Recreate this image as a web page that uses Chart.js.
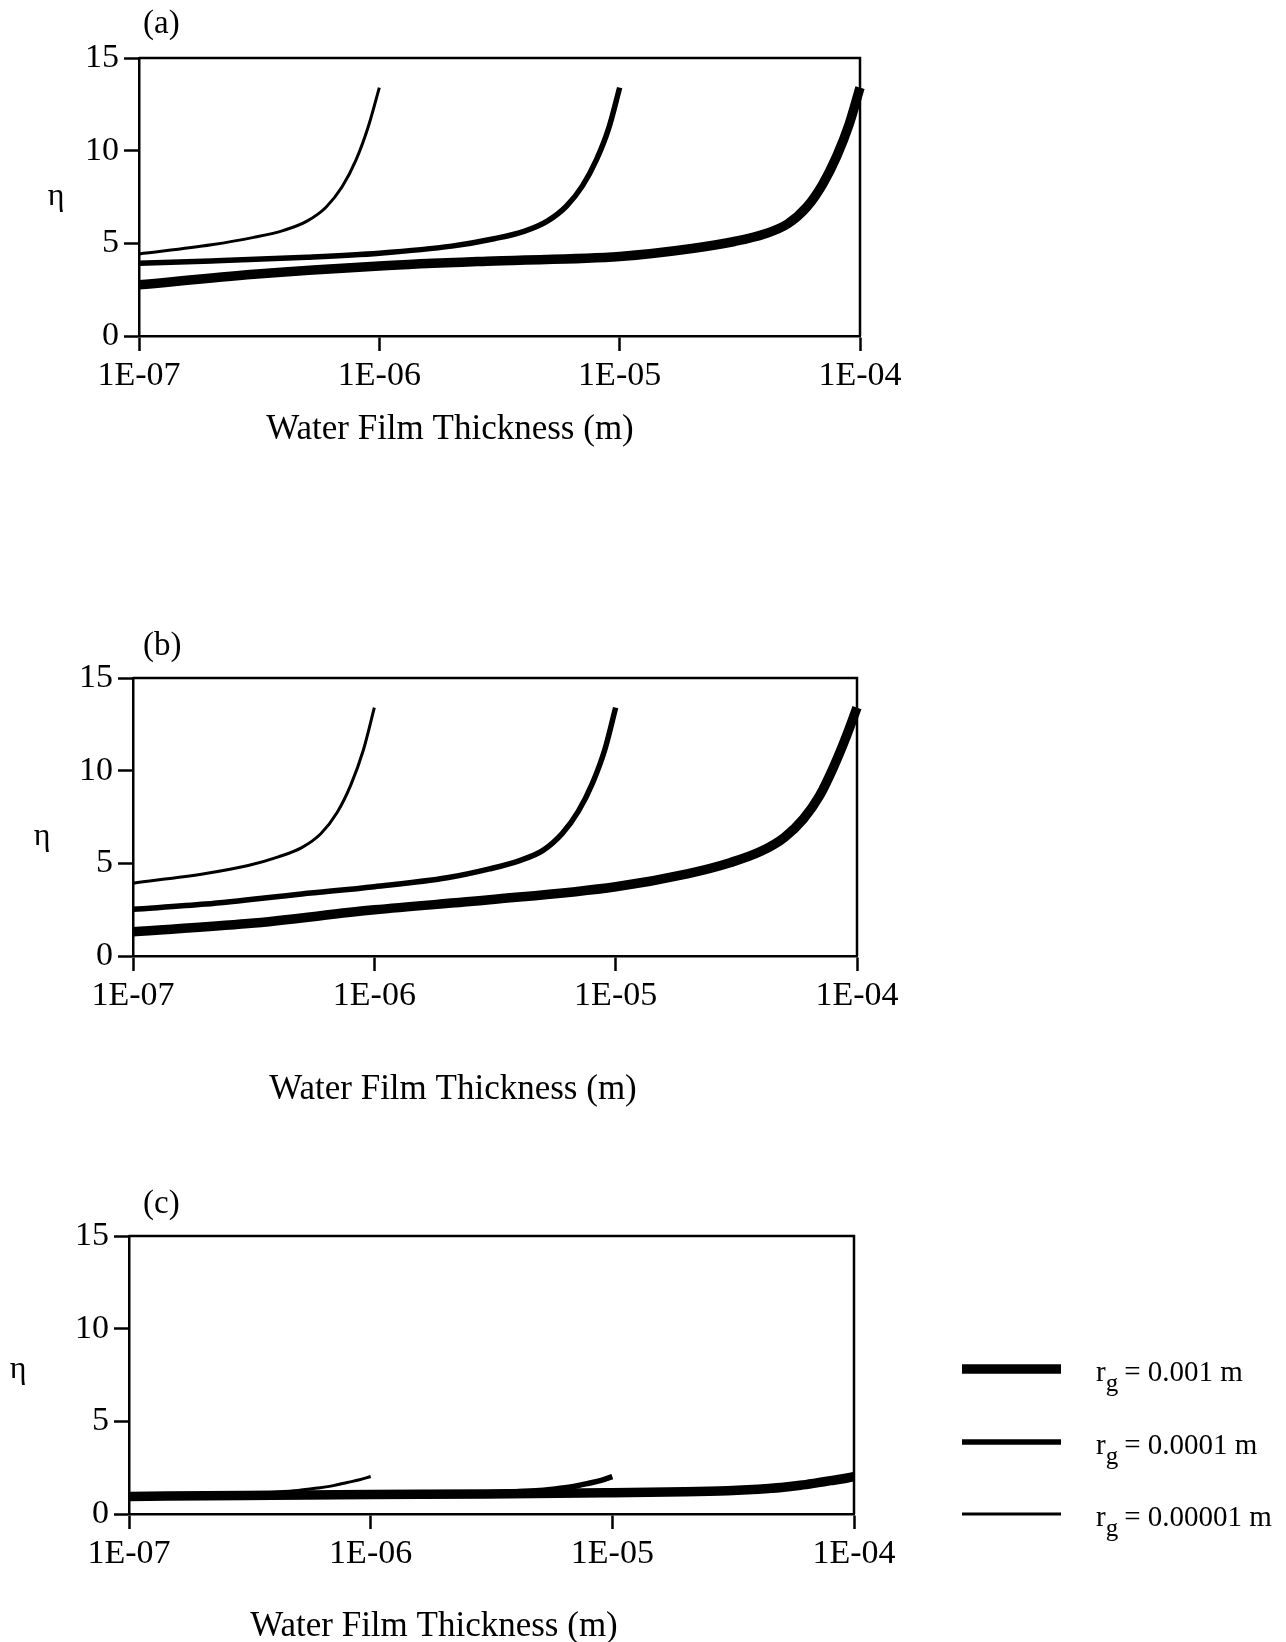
<!DOCTYPE html>
<html>
<head>
<meta charset="utf-8">
<script src="https://cdn.jsdelivr.net/npm/chart.js@4.4.1/dist/chart.umd.min.js"></script>
<style>
  html, body { margin: 0; padding: 0; background: #fff; }
  body { width: 1286px; height: 1642px; position: relative; overflow: hidden; }
</style>
</head>
<body>
<script>
const family = '"Liberation Serif", "Times New Roman", serif';

const xTicks = [1e-7, 1e-6, 1e-5, 1e-4];
const xTickLabels = ['1E-07', '1E-06', '1E-05', '1E-04'];
const yTicks = [0, 5, 10, 15];

// water film thickness (m) along each curve
const xLarge = [1e-7, 3e-7, 1e-6, 3e-6, 1e-5, 2e-5, 3e-5, 4e-5, 5e-5, 6e-5, 7e-5, 8e-5, 9e-5, 1e-4];
const xMid = [1e-7, 2e-7, 5e-7, 1e-6, 2e-6, 3e-6, 4e-6, 5e-6, 6e-6, 7e-6, 8e-6, 9e-6, 1e-5];
const xSmall = [1e-7, 2e-7, 3e-7, 4e-7, 5e-7, 6e-7, 7e-7, 8e-7, 9e-7, 1e-6];

// eta values, panel (a)
const aLarge = [2.76, 3.33, 3.78, 4.05, 4.29, 4.72, 5.1, 5.5, 6.05, 6.95, 8.2, 9.7, 11.4, 13.4];
const aMid = [3.93, 4.05, 4.25, 4.47, 4.85, 5.25, 5.65, 6.2, 7.0, 8.1, 9.5, 11.2, 13.4];
const aSmall = [4.43, 4.92, 5.32, 5.7, 6.2, 6.95, 8.05, 9.5, 11.3, 13.4];

// panel (b)
const bLarge = [1.31, 1.75, 2.49, 3.03, 3.74, 4.45, 5.05, 5.65, 6.4, 7.4, 8.65, 10.2, 11.8, 13.4];
const bMid = [2.52, 2.8, 3.35, 3.74, 4.22, 4.7, 5.15, 5.7, 6.6, 7.8, 9.3, 11.1, 13.4];
const bSmall = [3.93, 4.45, 4.88, 5.35, 5.85, 6.6, 7.73, 9.25, 11.1, 13.4];

// panel (c)
const cLarge = [0.95, 1.0, 1.05, 1.08, 1.15, 1.2, 1.26, 1.34, 1.43, 1.55, 1.68, 1.8, 1.9, 2.02];
const cMid = [1.0, 1.02, 1.05, 1.08, 1.1, 1.14, 1.2, 1.27, 1.38, 1.5, 1.66, 1.82, 2.02];
const cSmall = [1.0, 1.04, 1.1, 1.18, 1.27, 1.4, 1.53, 1.7, 1.85, 2.02];

const legendValues = ['0.001', '0.0001', '0.00001'];
const xTitle = 'Water Film Thickness (m)';

const xSeries = [xLarge, xMid, xSmall];
const lineWidths = [9.5, 5.5, 3];

// layout in page pixels
const panels = [
    { label: '(a)', series: [aLarge, aMid, aSmall], top: 0, height: 560, left: 139,
      pad: { top: 58, right: 426, bottom: 164 }, labelY: 24, etaX: 56, etaY: 205, titleX: 450, titleY: 439 },
    { label: '(b)', series: [bLarge, bMid, bSmall], top: 560, height: 570, left: 133,
      pad: { top: 118, right: 429, bottom: 114 }, labelY: 646, etaX: 42, etaY: 845, titleX: 453, titleY: 1099 },
    { label: '(c)', series: [cLarge, cMid, cSmall], top: 1130, height: 512, left: 129,
      pad: { top: 106, right: 432, bottom: 68 }, labelY: 1204, etaX: 18, etaY: 1378, titleX: 434, titleY: 1636,
      legend: { x1: 962, x2: 1061, textX: 1096, rows: [1369, 1442, 1514] } }
];

const decor = {
    id: 'decor',
    beforeDatasetsDraw(chart) {
        const { ctx, chartArea: a } = chart;
        ctx.save();
        ctx.strokeStyle = '#000';
        ctx.lineWidth = 2.5;
        ctx.beginPath();
        ctx.moveTo(a.left, a.top);
        ctx.lineTo(a.right, a.top);
        ctx.lineTo(a.right, a.bottom);
        ctx.stroke();
        ctx.restore();
    },
    afterDraw(chart, args, opts) {
        const p = opts.panel;
        const ctx = chart.ctx;
        const off = p.top;
        ctx.save();
        ctx.fillStyle = '#000';

        ctx.font = `33px ${family}`;
        ctx.textAlign = 'left';
        ctx.textBaseline = 'middle';
        ctx.fillText(p.label, 143, p.labelY - off);

        ctx.font = `32px ${family}`;
        ctx.textAlign = 'center';
        ctx.textBaseline = 'alphabetic';
        ctx.fillText('η', p.etaX, p.etaY - off);

        ctx.font = `35px ${family}`;
        ctx.fillText(xTitle, p.titleX, p.titleY - off);

        if (p.legend) {
            const lg = p.legend;
            chart.data.datasets.forEach((ds, i) => {
                const y = lg.rows[i] - off;
                ctx.strokeStyle = '#000';
                ctx.lineWidth = ds.borderWidth;
                ctx.beginPath();
                ctx.moveTo(lg.x1, y);
                ctx.lineTo(lg.x2, y);
                ctx.stroke();

                ctx.textAlign = 'left';
                ctx.font = `29px ${family}`;
                let x = lg.textX;
                ctx.fillText('r', x, y + 12);
                x += ctx.measureText('r').width;
                ctx.font = `25px ${family}`;
                ctx.fillText('g', x, y + 22);
                x += ctx.measureText('g').width + 6;
                ctx.font = `29px ${family}`;
                ctx.fillText(`= ${legendValues[i]} m`, x, y + 12);
            });
        }
        ctx.restore();
    }
};

const axisStyle = {
    grid: { drawOnChartArea: false, drawTicks: true, tickLength: 15, tickWidth: 2.5, color: '#000' },
    border: { display: true, color: '#000', width: 2.5 }
};

panels.forEach(p => {
    const box = document.createElement('div');
    box.style.cssText = `position:absolute;left:0;top:${p.top}px;width:1286px;height:${p.height}px`;
    const canvas = document.createElement('canvas');
    box.appendChild(canvas);
    document.body.appendChild(box);

    new Chart(canvas, {
        type: 'line',
        data: {
            datasets: p.series.map((ys, i) => ({
                label: `rg = ${legendValues[i]} m`,
                data: xSeries[i].map((x, j) => ({ x: x, y: ys[j] })),
                borderColor: '#000',
                borderWidth: lineWidths[i],
                pointRadius: 0,
                fill: false,
                clip: false,
                cubicInterpolationMode: 'monotone'
            }))
        },
        options: {
            responsive: true,
            maintainAspectRatio: false,
            animation: false,
            layout: { padding: { left: 0, top: p.pad.top, right: p.pad.right, bottom: p.pad.bottom } },
            plugins: {
                legend: { display: false },
                tooltip: { enabled: false },
                decor: { panel: p }
            },
            scales: {
                x: {
                    type: 'logarithmic',
                    min: 1e-7,
                    max: 1e-4,
                    afterBuildTicks: s => { s.ticks = xTicks.map(v => ({ value: v })); },
                    afterFit: s => { s.height = 60; },
                    ticks: {
                        autoSkip: false, maxRotation: 0, padding: 5, color: '#000',
                        font: { family: family, size: 34 },
                        callback: (v, i) => xTickLabels[i]
                    },
                    ...axisStyle
                },
                y: {
                    type: 'linear',
                    min: 0,
                    max: 15,
                    afterBuildTicks: s => { s.ticks = yTicks.map(v => ({ value: v })); },
                    afterFit: s => { s.width = p.left; },
                    ticks: { padding: 5, color: '#000', font: { family: family, size: 34 } },
                    ...axisStyle
                }
            }
        },
        plugins: [decor]
    });
});
</script>
</body>
</html>
